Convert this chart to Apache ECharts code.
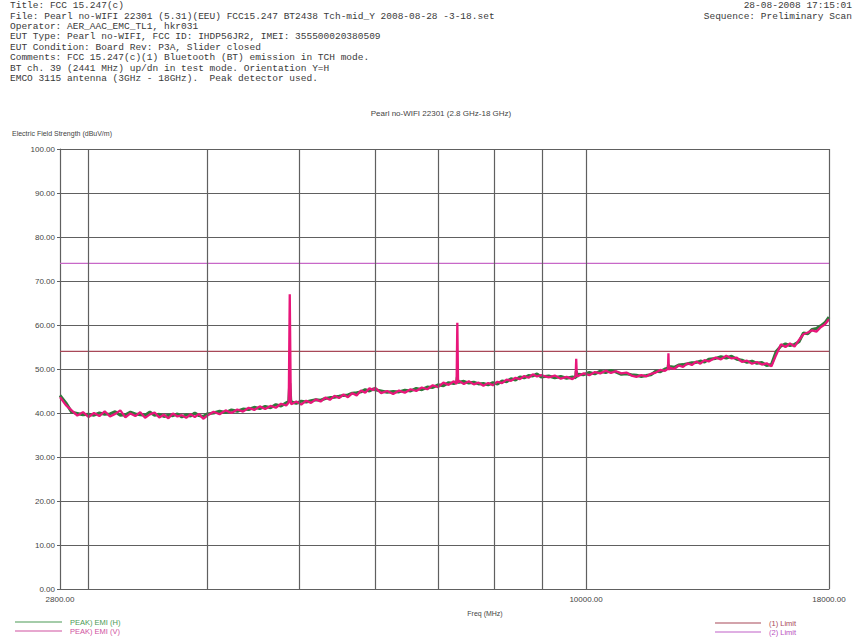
<!DOCTYPE html>
<html><head><meta charset="utf-8">
<script src="https://cdn.jsdelivr.net/npm/echarts@6/dist/echarts.min.js"></script>
<style>html,body{margin:0;padding:0;background:#fff;}#c{width:854px;height:639px;}</style>
</head><body><div id="c"></div>
<script>
// ---- data ----
const freqs = [
 2800,2840,2880,2920,2960,3000,3040,3080,3120,3160,3200,3240,3280,3320,3360,3400,3440,3480,3520,3560,3600,3640,3680,3720,3760,3800,3840,3880,3920,3960,4000,
 4060,4120,4180,4240,4300,4360,4420,4480,4540,4600,4660,4720,4780,4840,4870,4882,4894,4900,4960,5020,5080,5140,5200,5260,5320,5380,5440,5500,5560,5620,5680,5740,5800,5860,5920,5980,
 6000,6090,6180,6270,6360,6450,6540,6630,6720,6810,6900,6990,7080,7170,7260,7310,7323,7336,7350,7440,7530,7620,7710,7800,7890,7980,8070,8160,8250,8340,8430,8520,8610,8700,8790,8880,8970,
 9135,9270,9405,9540,9675,9750,9764,9778,9810,9945,10080,10215,10350,10485,10620,10755,10890,11025,11160,11295,11430,11565,11700,11835,11970,12105,12192,12205,12218,12240,12375,12510,12645,12780,12915,13050,13185,13320,13455,
 13680,13860,14040,14220,14400,14580,14760,14940,15120,15300,15480,15660,15840,16020,16200,16380,16560,16740,16920,17100,17280,17460,17640,17820,18000
];
const peakEmiV = [
 43.6,41.8,40.6,39.4,40.2,39.1,40.0,39.3,40.4,39.2,39.8,40.6,39.0,39.9,39.3,40.2,38.9,39.7,40.1,39.0,39.6,38.8,39.9,39.2,39.5,38.9,39.7,39.1,39.8,38.7,39.4,
 40.3,39.7,40.6,40.0,40.8,40.3,41.2,40.7,41.5,40.9,41.6,41.2,42.1,41.7,42.4,67.0,42.6,42.0,42.6,41.9,42.8,42.3,43.1,42.6,43.5,43.0,43.9,43.4,44.2,43.6,44.5,44.0,45.1,44.6,45.6,45.2,
 45.8,44.5,45.0,44.3,45.1,44.6,45.4,45.0,45.8,45.4,46.3,45.9,46.9,46.4,47.2,46.6,60.5,46.9,47.3,46.6,47.2,46.5,46.9,46.2,46.8,46.3,47.1,46.8,47.6,47.3,48.0,47.7,48.4,48.0,48.8,48.3,48.6,
 48.1,48.5,47.8,48.2,47.7,48.3,52.3,48.5,48.4,49.0,48.6,49.3,49.0,49.6,49.1,49.5,49.0,49.2,48.5,48.2,48.6,48.3,48.9,49.2,49.8,49.6,50.1,53.6,49.8,50.3,50.0,50.8,50.5,51.3,50.9,51.7,51.2,52.0,51.7,
 52.6,52.2,53.0,52.4,52.6,51.6,51.9,51.2,51.6,51.0,51.3,50.6,53.2,55.6,55.0,55.8,55.1,56.6,57.9,58.3,58.8,58.5,59.5,60.1,61.3
];
const peakEmiH = [
 44.0,42.3,40.2,39.9,39.6,39.7,39.5,40.0,39.7,39.8,40.3,39.5,39.6,40.2,39.8,39.6,39.5,40.2,39.5,39.7,39.2,39.5,39.4,39.8,39.1,39.6,39.3,40.0,39.4,39.2,39.8,
 40.0,40.4,40.1,40.7,40.4,40.9,40.8,41.3,41.0,41.5,41.2,41.9,41.6,42.3,42.6,46.8,43.0,42.5,42.2,42.7,42.5,42.8,43.0,42.9,43.3,43.5,43.6,43.8,44.0,44.1,44.5,44.6,44.8,45.3,45.0,45.5,
 45.3,45.0,44.7,44.9,44.8,45.2,45.0,45.6,45.3,45.9,45.8,46.4,46.2,46.9,46.7,47.0,48.2,46.8,47.0,47.2,46.8,47.0,46.6,46.7,46.4,46.9,46.6,47.3,47.1,47.8,47.5,48.2,48.0,48.5,48.4,48.9,48.2,
 48.4,48.0,48.3,47.9,48.2,48.0,49.5,48.2,48.8,48.7,49.2,48.9,49.5,49.2,49.7,49.3,48.8,48.9,48.7,48.6,48.3,48.5,48.7,49.5,49.4,50.0,50.2,51.0,50.4,50.6,50.4,50.9,51.0,51.2,51.4,51.5,51.8,51.6,52.2,
 52.4,52.8,52.5,52.9,52.2,52.0,51.5,51.8,51.3,51.5,50.8,51.0,54.0,55.2,55.7,55.3,55.6,56.2,58.2,58.0,59.0,59.2,59.8,60.5,61.8
];
const limit1 = [54, 54];
const limit2 = [74, 74];
const freqRange = [2800, 18000];
const xGridFreqs = [3000, 4000, 5000, 6000, 7000, 8000, 9000, 10000, 18000];
const xTickLabels = [2800, 10000, 18000];
const headerLines = [
 'Title: FCC 15.247(c)',
 'File: Pearl no-WIFI 22301 (5.31)(EEU) FCC15.247 BT2438 Tch-mid_Y 2008-08-28 -3-18.set',
 'Operator: AER_AAC_EMC_TL1, hkr031',
 'EUT Type: Pearl no-WIFI, FCC ID: IHDP56JR2, IMEI: 355500020380509',
 'EUT Condition: Board Rev: P3A, Slider closed',
 'Comments: FCC 15.247(c)(1) Bluetooth (BT) emission in TCH mode.',
 'BT ch. 39 (2441 MHz) up/dn in test mode. Orientation Y=H',
 'EMCO 3115 antenna (3GHz - 18GHz).  Peak detector used.'
];
const headerRight = ['28-08-2008 17:15:01', 'Sequence: Preliminary Scan'];
const chartTitle = 'Pearl no-WIFI 22301 (2.8 GHz-18 GHz)';
const yName = 'Electric Field Strength (dBuV/m)';
const xName = 'Freq (MHz)';
const seriesNames = ['PEAK) EMI (H)', 'PEAK) EMI (V)', '(1) Limit', '(2) Limit'];

// ---- chart ----
const GRID = '#606060';
const chart = echarts.init(document.getElementById('c'), null, {renderer: 'svg'});
const pairs = (vals) => freqs.map((f, i) => [f, vals[i]]);
const limPairs = (vals) => freqRange.map((f, i) => [f, vals[i]]);
const legendText = {fontFamily: 'Liberation Sans', fontSize: 7.5, lineHeight: 9, padding: [0,0,0,3]};

chart.setOption({
  animation: false,
  backgroundColor: '#fff',
  grid: {left: 60, top: 149, width: 769, height: 440, containLabel: false},
  xAxis: {
    type: 'log', logBase: 10, min: freqRange[0], max: freqRange[1],
    axisLine: {show: true, lineStyle: {color: GRID, width: 1.2}},
    axisTick: {show: false},
    splitLine: {show: false},
    minorTick: {show: false}, minorSplitLine: {show: false},
    axisLabel: {
      customValues: xTickLabels, showMinLabel: true, showMaxLabel: true,
      formatter: (v) => Number(v).toFixed(2),
      fontFamily: 'Liberation Sans', fontSize: 8, color: '#444', margin: 6
    }
  },
  yAxis: {
    type: 'value', min: 0, max: 100, interval: 10,
    axisLine: {show: true, lineStyle: {color: GRID, width: 1.2}},
    axisTick: {show: true, length: 3, lineStyle: {color: GRID}},
    splitLine: {show: true, lineStyle: {color: GRID, width: 1.2}},
    axisLabel: {
      formatter: (v) => v.toFixed(2),
      fontFamily: 'Liberation Sans', fontSize: 8, color: '#444', margin: 5
    }
  },
  legend: [
    {
      left: 15, top: 617.5, orient: 'vertical', padding: 0, itemWidth: 47, itemHeight: 1, itemGap: 0,
      icon: 'rect', selectedMode: false, textStyle: legendText,
      data: [
        {name: seriesNames[0], textStyle: {color: '#4a9a55'}},
        {name: seriesNames[1], textStyle: {color: '#d050a0'}}
      ]
    },
    {
      left: 715, top: 618.5, orient: 'vertical', padding: 0, itemWidth: 46, itemHeight: 1, itemGap: 0,
      icon: 'rect', selectedMode: false, textStyle: legendText,
      data: [
        {name: seriesNames[2], textStyle: {color: '#a84858'}},
        {name: seriesNames[3], textStyle: {color: '#b850c0'}}
      ]
    }
  ],
  series: [
    {
      name: seriesNames[2], type: 'line', data: limPairs(limit1), symbol: 'none', silent: true,
      lineStyle: {color: '#a84858', width: 1.2}, itemStyle: {color: '#a84858'},
      markLine: {
        silent: true, symbol: 'none', label: {show: false},
        lineStyle: {color: GRID, width: 1.2, type: 'solid'},
        data: xGridFreqs.map(f => ({xAxis: f}))
      }
    },
    {
      name: seriesNames[3], type: 'line', data: limPairs(limit2), symbol: 'none', silent: true,
      lineStyle: {color: '#c868c8', width: 1.2}, itemStyle: {color: '#c060c8'}
    },
    {
      name: seriesNames[0], type: 'line', data: pairs(peakEmiH), symbol: 'none', silent: true,
      lineStyle: {color: '#2f7a3a', width: 3}, itemStyle: {color: '#4a9a55'}
    },
    {
      name: seriesNames[1], type: 'line', data: pairs(peakEmiV), symbol: 'none', silent: true,
      lineStyle: {color: '#e8167a', width: 2.3}, itemStyle: {color: '#d050a0'}
    }
  ],
  graphic: [
    {type: 'text', x: 10, y: 0.5, silent: true,
     style: {text: headerLines.join('\n'), fontFamily: 'Liberation Mono', fontSize: 9.5, lineHeight: 10.4, fill: '#3a3a3a'}},
    {type: 'text', x: 852, y: 0.5, silent: true,
     style: {text: headerRight.join('\n'), align: 'right', fontFamily: 'Liberation Mono', fontSize: 9.5, lineHeight: 10.4, fill: '#3a3a3a'}},
    {type: 'text', x: 441, y: 113, silent: true,
     style: {text: chartTitle, align: 'center', verticalAlign: 'middle', fontFamily: 'Liberation Sans', fontSize: 8, fill: '#444'}},
    {type: 'text', x: 12, y: 133, silent: true,
     style: {text: yName, align: 'left', verticalAlign: 'middle', fontFamily: 'Liberation Sans', fontSize: 7, fill: '#444'}},
    {type: 'text', x: 485, y: 613, silent: true,
     style: {text: xName, align: 'center', verticalAlign: 'middle', fontFamily: 'Liberation Sans', fontSize: 7, fill: '#444'}}
  ]
});
</script></body></html>
